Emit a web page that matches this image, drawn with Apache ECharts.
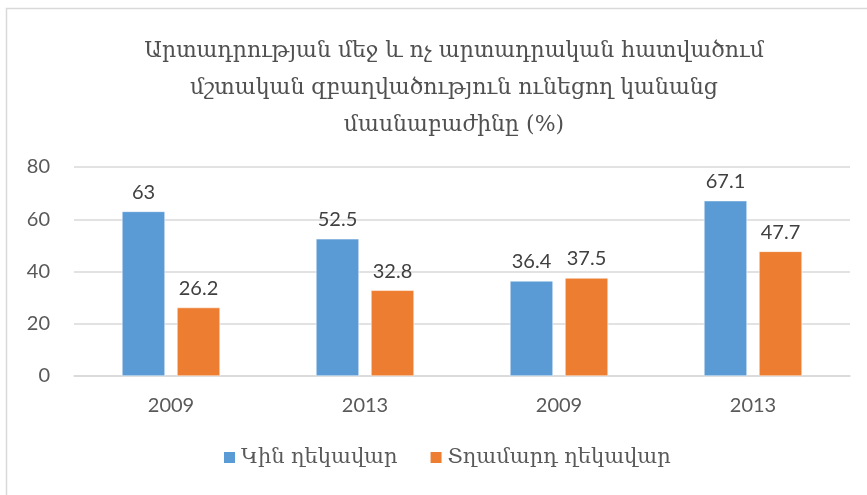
<!DOCTYPE html>
<html>
<head>
<meta charset="utf-8">
<script src="https://cdn.jsdelivr.net/npm/echarts@6/dist/echarts.min.js"></script>
<style>
  html, body { margin: 0; padding: 0; background: #fff; }
  #main { width: 867px; height: 495px; }
</style>
</head>
<body>
<div id="main"></div>
<script>
var categories = ['2009', '2013', '2009', '2013'];
var womenLead = [63, 52.5, 36.4, 67.1];
var menLead = [26.2, 32.8, 37.5, 47.7];
var yTicks = [0, 20, 40, 60, 80];

var chart = echarts.init(document.getElementById('main'));
var numFont = 'Lato, "Open Sans", sans-serif';
var armFont = '"DejaVu Serif", serif';

var option = {
  animation: false,
  graphic: [{
    type: 'rect',
    shape: { x: 6.5, y: 8.5, width: 900, height: 520 },
    style: { fill: 'none', stroke: '#d9d9d9', lineWidth: 1.5 }
  }],
  title: {
    text: 'Արտադրության մեջ և ոչ արտադրական հատվածում\nմշտական զբաղվածություն ունեցող կանանց\nմասնաբաժինը (%)',
    left: 449,
    textAlign: 'center',
    top: 28,
    textStyle: {
      fontFamily: armFont,
      fontSize: 22,
      fontWeight: 'normal',
      color: '#505050',
      lineHeight: 37
    }
  },
  legend: {
    bottom: 22,
    left: 217,
    itemWidth: 13,
    itemHeight: 13,
    itemGap: 31,
    icon: 'rect',
    textStyle: { fontFamily: armFont, fontSize: 21, color: '#595959' },
    data: ['Կին ղեկավար', 'Տղամարդ ղեկավար']
  },
  grid: { left: 74, right: 17, top: 167, bottom: 119 },
  xAxis: {
    type: 'category',
    data: categories,
    axisLine: { lineStyle: { color: '#d9d9d9', width: 1.5 } },
    axisTick: { show: false },
    axisLabel: { fontFamily: numFont, fontSize: 20, color: '#595959', margin: 20 }
  },
  yAxis: {
    type: 'value',
    min: yTicks[0],
    max: yTicks[yTicks.length - 1],
    interval: 20,
    axisLine: { show: false },
    axisTick: { show: false },
    splitLine: { lineStyle: { color: '#d9d9d9', width: 1.5 } },
    axisLabel: { fontFamily: numFont, fontSize: 20, color: '#595959', margin: 24 }
  },
  series: [{
    name: 'Կին ղեկավար',
    type: 'bar',
    data: womenLead,
    barWidth: 43,
    barGap: '28%',
    itemStyle: { color: '#5b9bd5', borderColor: '#ffffff', borderWidth: 0.5 },
    label: { show: true, position: 'top', distance: 9, fontFamily: numFont, fontSize: 20, color: '#404040' }
  }, {
    name: 'Տղամարդ ղեկավար',
    type: 'bar',
    data: menLead,
    barWidth: 43,
    itemStyle: { color: '#ed7d31', borderColor: '#ffffff', borderWidth: 0.5 },
    label: { show: true, position: 'top', distance: 9, fontFamily: numFont, fontSize: 20, color: '#404040' }
  }]
};
chart.setOption(option);
</script>
</body>
</html>
